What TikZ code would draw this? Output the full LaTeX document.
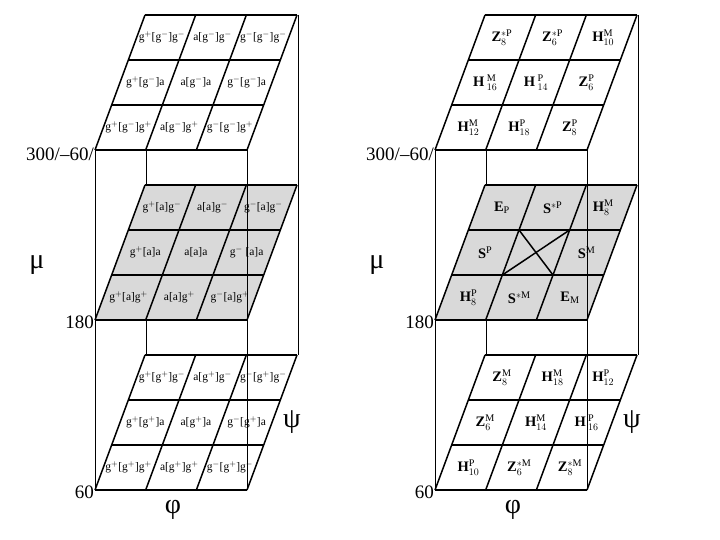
\documentclass[tikz,border=0pt]{standalone}
\usepackage{fontspec}
\setmainfont{Liberation Serif}
\usetikzlibrary{positioning}

\newcommand{\gp}{g$^{+}$}
\newcommand{\gm}{g$^{-}$}
\newcommand{\lab}[3]{\textbf{#1}$_{#2}^{\mathrm{#3}}$}

\begin{document}
\begin{tikzpicture}[
    x=1pt, y=-1pt,
    gridline/.style={line width=1.5pt},
    edge/.style={line width=0.7pt},
    cell/.style={inner sep=0pt, font=\fontsize{11.5}{12}\selectfont},
    bold/.style={inner sep=0pt, font=\fontsize{14.5}{15}\selectfont},
    axis/.style={inner sep=1pt, font=\fontsize{19}{19}\selectfont},
    greek/.style={inner sep=0pt, font=\fontsize{28}{28}\selectfont}
]
\useasboundingbox (0,0) rectangle (720,540);

% Grids ------------------------------------------------------
\foreach \xo in {95, 435}{
  \foreach \yb/\f in {150/white, 320/black!15, 490/white}{
    \begin{scope}[shift={(\xo,\yb)}]
      \fill[\f] (0,0) -- (152,0) -- (202,-135) -- (50,-135) -- cycle;
      \foreach \k in {0,1,2,3}{
        \draw[gridline] ({16.67*\k},{-45*\k}) -- ({152+16.67*\k},{-45*\k});
        \draw[gridline] ({50.67*\k},0) -- ({50.67*\k+50},-135);
      }
    \end{scope}
  }
  \draw[edge] (\xo,150) -- (\xo,490);
  \draw[edge] (\xo+152,150) -- (\xo+152,490);
  \draw[edge] (\xo+203,15) -- (\xo+203,355);
  \draw[edge] (\xo+51,150) -- (\xo+51,185);
  \draw[edge] (\xo+51,320) -- (\xo+51,355);
}
\begin{scope}[shift={(435,320)}]
  \draw[gridline] (67.33,-45) -- (134.67,-90);
  \draw[gridline] (84,-90) -- (118,-45);
\end{scope}

% Cell texts -------------------------------------------------
\begin{scope}[shift={(95,150)}]
  \foreach \i/\j/\t in {0/2/\gp[\gm]\gm, 1/2/a[\gm]\gm, 2/2/\gm[\gm]\gm,
                        0/1/\gp[\gm]a, 1/1/a[\gm]a, 2/1/\gm[\gm]a,
                        0/0/\gp[\gm]\gp, 1/0/a[\gm]\gp, 2/0/\gm[\gm]\gp}
    \node[cell] (lt\i\j) at ({33.6+50.67*\i+16.67*\j}, {-22.5-45*\j}) {\t};
\end{scope}
\begin{scope}[shift={(95,320)}]
  \foreach \i/\j/\t in {0/2/\gp[a]\gm, 1/2/a[a]\gm, 2/2/\gm[a]\gm,
                        0/1/\gp[a]a, 1/1/a[a]a, 2/1/\gm\ [a]a,
                        0/0/\gp[a]\gp, 1/0/a[a]\gp, 2/0/\gm[a]\gp}
    \node[cell] (lm\i\j) at ({33.6+50.67*\i+16.67*\j}, {-22.5-45*\j}) {\t};
\end{scope}
\begin{scope}[shift={(95,490)}]
  \foreach \i/\j/\t in {0/2/\gp[\gp]\gm, 1/2/a[\gp]\gm, 2/2/\gm[\gp]\gm,
                        0/1/\gp[\gp]a, 1/1/a[\gp]a, 2/1/\gm[\gp]a,
                        0/0/\gp[\gp]\gp, 1/0/a[\gp]\gp, 2/0/\gm[\gp]\gm}
    \node[cell] (lb\i\j) at ({33.6+50.67*\i+16.67*\j}, {-22.5-45*\j}) {\t};
\end{scope}

\begin{scope}[shift={(435,150)}]
  \foreach \i/\j/\t in {0/2/\lab{Z}{8}{*P}, 1/2/\lab{Z}{6}{*P}, 2/2/\lab{H}{10}{M},
                        0/1/\lab{H\,}{16}{M}, 1/1/\lab{H\,}{14}{P}, 2/1/\lab{Z}{6}{P},
                        0/0/\lab{H}{12}{M}, 1/0/\lab{H}{18}{P}, 2/0/\lab{Z}{8}{P}}
    \node[bold] (rt\i\j) at ({33.6+50.67*\i+16.67*\j}, {-22.5-45*\j}) {\t};
\end{scope}
\begin{scope}[shift={(435,320)}]
  \foreach \i/\j/\t in {0/2/\textbf{E}$_{\mathrm{P}}$, 1/2/\textbf{S}$^{\mathrm{*P}}$, 2/2/\lab{H}{8}{M},
                        0/1/\textbf{S}$^{\mathrm{P}}$, 2/1/\textbf{S}$^{\mathrm{M}}$,
                        0/0/\lab{H}{8}{P}, 1/0/\textbf{S}$^{\mathrm{*M}}$, 2/0/\textbf{E}$_{\mathrm{M}}$}
    \node[bold] (rm\i\j) at ({33.6+50.67*\i+16.67*\j}, {-22.5-45*\j}) {\t};
\end{scope}
\begin{scope}[shift={(435,490)}]
  \foreach \i/\j/\t in {0/2/\lab{Z}{8}{M}, 1/2/\lab{H}{18}{M}, 2/2/\lab{H}{12}{P},
                        0/1/\lab{Z}{6}{M}, 1/1/\lab{H}{14}{M}, 2/1/\lab{H\,}{16}{P},
                        0/0/\lab{H}{10}{P}, 1/0/\lab{Z}{6}{*M}, 2/0/\lab{Z}{8}{*M}}
    \node[bold] (rb\i\j) at ({33.6+50.67*\i+16.67*\j}, {-22.5-45*\j}) {\t};
\end{scope}

% Axis labels ------------------------------------------------
\node[axis, anchor=south east] (ltop) at (95,162) {300/–60/};
\node[greek] (lmu) at (37,265) {μ};
\node[axis, anchor=east] (lmid) at (95,322) {180};
\node[axis, anchor=east] (lbot) at (95,492) {60};
\node[greek] (lphi) at (173,510) {φ};
\node[greek] (lpsi) at (292,422) {ψ};

\node[axis, anchor=south east] (rtop) at (435,162) {300/–60/};
\node[greek] (rmu) at (377,265) {μ};
\node[axis, anchor=east] (rmid) at (435,322) {180};
\node[axis, anchor=east] (rbot) at (435,492) {60};
\node[greek] (rphi) at (513,510) {φ};
\node[greek] (rpsi) at (632,422) {ψ};

\end{tikzpicture}
\end{document}
